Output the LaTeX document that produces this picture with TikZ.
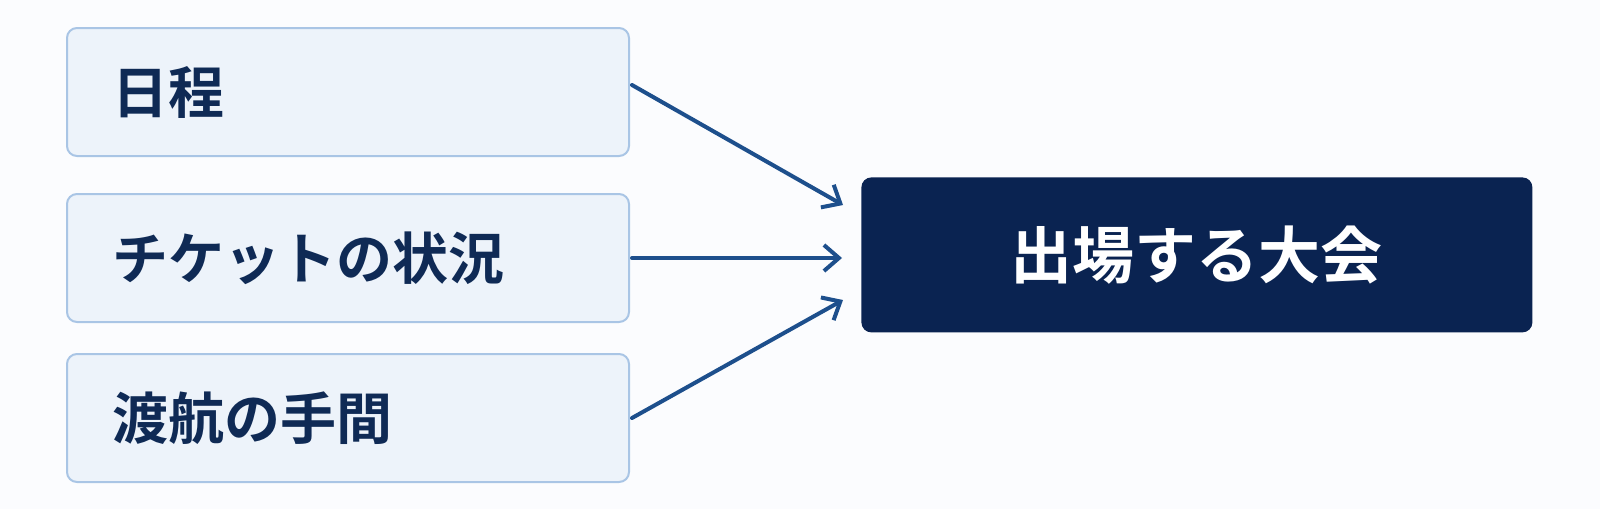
\documentclass[tikz,border=0pt]{standalone}
\usepackage{fontspec}
\setmainfont{Noto Sans CJK JP}[BoldFont={Noto Sans CJK JP Bold}]
\usetikzlibrary{arrows.meta,calc}
\definecolor{bgc}{HTML}{FBFCFE}
\definecolor{lfill}{HTML}{EDF3FA}
\definecolor{lborder}{HTML}{A9C5E5}
\definecolor{ltext}{HTML}{0F2A55}
\definecolor{dfill}{HTML}{0A2351}
\definecolor{arrowc}{HTML}{1D4F8C}
\tikzset{
  srcbox/.style={draw=lborder, line width=1pt, fill=lfill, rounded corners=5pt,
    anchor=north west, minimum height=64pt, text width=236pt, inner xsep=22.5pt,
    align=left, text=ltext, font=\bfseries\fontsize{28pt}{32pt}\selectfont},
  dstbox/.style={fill=dfill, rounded corners=5pt, anchor=north west,
    minimum width=335.5pt, minimum height=77.5pt, text=white,
    font=\bfseries\fontsize{31pt}{35pt}\selectfont},
  flow/.style={draw=arrowc, line width=2pt, line cap=round,
    -{Straight Barb[length=7.5pt,width=13pt,line width=2pt]}}
}
\begin{document}
\begin{tikzpicture}[x=0.5pt,y=-0.5pt]
\fill[bgc] (0,0) rectangle (1600,509);
\useasboundingbox (0,0) rectangle (1600,509);
\node[srcbox] (a) at (66,27) {日程};
\node[srcbox] (b) at (66,193) {チケットの状況};
\node[srcbox] (c) at (66,353) {渡航の手間};
\node[dstbox] (d) at (861,177) {出場する大会};
\coordinate (t1) at (843,205);
\coordinate (t2) at (842,258);
\coordinate (t3) at (843,300);
\draw[flow] ($(a.east)+(2,-7)$) -- (t1);
\draw[flow] ($(b.east)+(2,0)$) -- (t2);
\draw[flow] ($(c.east)+(2,0)$) -- (t3);
\end{tikzpicture}
\end{document}
